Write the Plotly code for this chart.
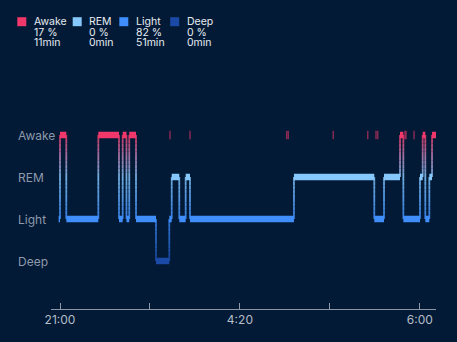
import plotly.graph_objects as go

# ---------------- data ----------------
stage_levels = ["Deep", "Light", "REM", "Awake"]          # y index 0..3
stage_colors = ["#1a4aa6", "#3f8efc", "#86c8fc", "#f2386b"]

# hypnogram segments: start position (x units) and stage
seg_starts = [-1.5, 0, 7, 42.6, 65.6, 69.7, 73.9, 77.0, 84.5, 106.7, 121.5, 124.2,
              132.6, 139.7, 144.5, 260.1, 349.4, 360.2, 378.0, 381.7, 400.2, 403.2,
              406.1, 410.6, 413.6]
seg_stages = ["Light", "Awake", "Light", "Awake", "Light", "Awake", "Light", "Awake",
              "Light", "Deep", "Light", "REM", "Light", "REM", "Light", "REM", "Light",
              "REM", "Awake", "Light", "REM", "Awake", "Light", "REM", "Awake"]
seg_end = 418.0

# brief awakenings (faint marks)
brief_awake_x = [122.3, 144.5, 252.0, 253.8, 303.8, 342.1, 351.3, 353.2, 383.5, 384.7, 393.6]

x_tickvals = [0, 100, 200, 300, 400]
x_ticktext = ["21:00", "", "4:20", "", "6:00"]

legend_names = ["Awake", "REM", "Light", "Deep"]
legend_pct = ["17 %", "0 %", "82 %", "0 %"]
legend_dur = ["11min", "0min", "51min", "0min"]
legend_colors = ["#f2386b", "#86c8fc", "#3f8efc", "#1a4aa6"]

# ---------------- helpers ----------------
BG = "#021a35"
L, R, T, B = 51, 21, 100, 33
W, H = 457, 342
PW, PH = W - L - R, H - T - B


def px2paper_x(px):
    return (px - L) / PW


def px2paper_y(py):
    return (H - B - py) / PH


def hex2rgb(h):
    h = h.lstrip("#")
    return tuple(int(h[i:i + 2], 16) for i in (0, 2, 4))


def color_at(y):
    lo = max(0, min(2, int(y)))
    t = max(0.0, min(1.0, y - lo))
    c0, c1 = hex2rgb(stage_colors[lo]), hex2rgb(stage_colors[lo + 1])
    c = [round(a + (b - a) * t) for a, b in zip(c0, c1)]
    return "rgb(%d,%d,%d)" % tuple(c)


lvl = {n: i for i, n in enumerate(stage_levels)}

fig = go.Figure()

# connectors, banded by y for a vertical gradient
connectors = []
for i in range(1, len(seg_starts)):
    connectors.append((seg_starts[i], lvl[seg_stages[i - 1]], lvl[seg_stages[i]]))

nb = 10
for k in range(3 * nb):
    lo, hi = k / nb, (k + 1) / nb
    xs, ys = [], []
    for x, a, b in connectors:
        if min(a, b) <= lo and hi <= max(a, b):
            xs += [x, x, None]
            ys += [lo, hi, None]
    if xs:
        fig.add_trace(go.Scatter(x=xs, y=ys, mode="lines", hoverinfo="skip",
                                 line=dict(color=color_at((lo + hi) / 2), width=1.8),
                                 opacity=0.85))

# thick stage bars
ends = seg_starts[1:] + [seg_end]
for s_i, name in enumerate(stage_levels):
    xs, ys = [], []
    for st, en, sg in zip(seg_starts, ends, seg_stages):
        if sg == name:
            xs += [st, en, None]
            ys += [s_i, s_i, None]
    if xs:
        fig.add_trace(go.Scatter(x=xs, y=ys, mode="lines", hoverinfo="skip",
                                 line=dict(color=stage_colors[s_i], width=6.5)))

# faint brief awakenings
fig.add_trace(go.Scatter(x=brief_awake_x, y=[3] * len(brief_awake_x), mode="markers",
                         hoverinfo="skip",
                         marker=dict(symbol="line-ns", size=6,
                                     line=dict(color="rgba(242,56,107,0.55)", width=1.5))))

annotations = []
# y-axis stage labels (left aligned)
for i, name in enumerate(stage_levels):
    annotations.append(dict(text=name, x=px2paper_x(16), xref="paper", y=i - 0.02, yref="y",
                            xanchor="left", yanchor="middle", showarrow=False,
                            font=dict(size=12, color="#8f99ab", family="Inter")))

# custom legend
shapes = []
sq_left = [17.3, 72.7, 119.3, 170.2]
tx_x = [32.5, 88, 135, 185.5]
for i in range(4):
    shapes.append(dict(type="rect", xref="paper", yref="paper",
                       x0=px2paper_x(sq_left[i]), x1=px2paper_x(sq_left[i] + 9),
                       y0=px2paper_y(26.2), y1=px2paper_y(17.2),
                       fillcolor=legend_colors[i], line=dict(width=0), layer="above"))
    for j, (txt, yy) in enumerate(zip([legend_names[i], legend_pct[i], legend_dur[i]],
                                      [21.5, 32, 42.3])):
        annotations.append(dict(text=txt, x=px2paper_x(tx_x[i]), xref="paper",
                                y=px2paper_y(yy), yref="paper", xanchor="left",
                                yanchor="middle", showarrow=False, borderpad=0,
                                font=dict(size=10.5, color="#e6ebf2", family="Inter")))

fig.update_layout(
    width=W, height=H,
    margin=dict(l=L, r=R, t=T, b=B),
    paper_bgcolor=BG, plot_bgcolor=BG,
    showlegend=False,
    font=dict(family="Inter"),
    xaxis=dict(range=[-10, 418], tickvals=x_tickvals, ticktext=x_ticktext,
               showgrid=False, zeroline=False, showline=True, linecolor="#8d97a8",
               linewidth=1, ticks="inside", ticklen=6, tickcolor="#8d97a8",
               tickfont=dict(size=12, color="#b5bdc9", family="Inter"), fixedrange=True),
    yaxis=dict(range=[-1.143, 3.833], showgrid=False, zeroline=False,
               showticklabels=False, fixedrange=True),
    annotations=annotations,
    shapes=shapes,
)

fig.write_html("out.html")
